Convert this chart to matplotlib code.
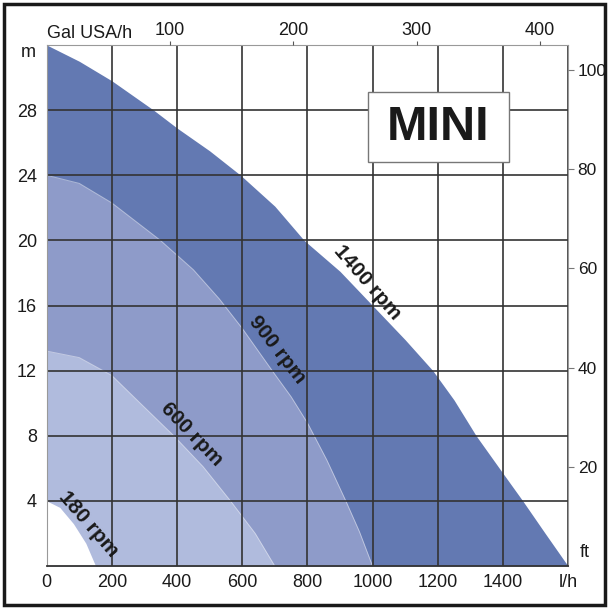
import matplotlib
matplotlib.use('Agg')
import matplotlib.pyplot as plt
from matplotlib.patches import Rectangle

# pump curves: flow in l/h, head in m
flow_1400 = [0, 100, 200, 328, 400, 500, 595, 700, 790, 900, 1000, 1100, 1185,
             1250, 1318, 1400, 1461, 1530, 1600]
head_1400 = [32, 31.0, 29.8, 28, 26.9, 25.5, 24, 22.1, 20, 18.1, 16.0, 13.9, 12,
             10.2, 8, 5.7, 4, 2.0, 0]
flow_900 = [0, 100, 200, 349, 450, 530, 600, 692, 750, 800, 860, 918, 960, 1000]
head_900 = [24, 23.5, 22.3, 20, 18.2, 16.4, 14.6, 12, 10.4, 8.8, 6.5, 4, 2.1, 0]
flow_600 = [0, 100, 200, 287, 390, 480, 564, 640, 700]
head_600 = [13.2, 12.8, 11.7, 10.0, 8, 6.1, 4, 2.0, 0]
flow_180 = [0, 40, 82, 120, 150]
head_180 = [4, 3.6, 2.6, 1.4, 0]

speeds = ['1400 rpm', '900 rpm', '600 rpm', '180 rpm']
label_pos = [(985, 17.4), (708, 13.3), (446, 8.1), (128, 2.6)]
label_rot = [-49, -52, -46, -49]

x_ticks = [0, 200, 400, 600, 800, 1000, 1200, 1400, 1600]
x_labels = ['0', '200', '400', '600', '800', '1000', '1200', '1400', 'l/h']
y_ticks = [4, 8, 12, 16, 20, 24, 28]
ft_ticks = [20, 40, 60, 80, 100]
gal_ticks = [100, 200, 300, 400]

c_dark = '#6379b2'
c_mid = '#8e9bc9'
c_light = '#b0bbdd'
grid_c = '#333333'
narrow = ['Liberation Sans Narrow', 'Liberation Sans', 'DejaVu Sans']

fig = plt.figure(figsize=(6.09, 6.09), dpi=100)
ax = fig.add_axes([0.0767, 0.0706, 0.8560, 0.8555])

ax.fill_between(flow_1400, head_1400, color=c_dark, lw=0, zorder=1)
ax.fill_between(flow_900, head_900, color=c_mid, lw=0, zorder=1)
ax.fill_between(flow_600, head_600, color=c_light, lw=0, zorder=1)
ax.fill_between(flow_180, head_180, color='white', lw=0, zorder=1)
for fx, hy in [(flow_900, head_900), (flow_600, head_600)]:
    ax.plot(fx, hy, color='white', lw=0.7, alpha=0.45, zorder=1.2)

ax.set_xlim(0, 1600)
ax.set_ylim(0, 32)
ax.set_xticks(x_ticks)
ax.set_xticklabels(x_labels, fontfamily=narrow, fontsize=13)
ax.set_yticks(y_ticks)
ax.set_yticklabels([str(v) for v in y_ticks], fontfamily=narrow, fontsize=13)
ax.tick_params(axis='both', length=0, colors='#1a1a1a')
ax.tick_params(axis='x', pad=6)
ax.tick_params(axis='y', pad=7)
ax.grid(True, color=grid_c, lw=1.2)
for s in ['top', 'right', 'left']:
    ax.spines[s].set_color('#999999')
ax.spines['bottom'].set_color('#333333')
ax.spines['bottom'].set_linewidth(1.3)

ax.text(-0.02, 0.985, 'm', transform=ax.transAxes, ha='right', va='center',
        fontfamily=narrow, fontsize=13, color='#1a1a1a')

# feet on the right
axr = ax.twinx()
axr.set_ylim(0, 32 / 0.3048)
axr.set_yticks(ft_ticks)
axr.set_yticklabels([str(v) for v in ft_ticks], fontfamily=narrow, fontsize=12.5)
axr.tick_params(axis='y', length=4, color='#777777', pad=3, labelcolor='#1a1a1a')
for s in axr.spines.values():
    s.set_visible(False)
axr.text(1.022, 0.025, 'ft', transform=ax.transAxes, ha='left', va='center',
         fontfamily=narrow, fontsize=13, color='#1a1a1a')

# US gallons on top
axt = ax.twiny()
axt.set_xlim(0, 1600 / 3.785411784)
axt.set_xticks(gal_ticks)
axt.set_xticklabels([str(v) for v in gal_ticks], fontfamily=narrow, fontsize=13)
axt.tick_params(axis='x', length=3, color='#555555', pad=1, labelcolor='#1a1a1a')
for s in axt.spines.values():
    s.set_visible(False)
axt.text(0.0, 1.022, 'Gal USA/h', transform=ax.transAxes, ha='left', va='center',
         fontfamily=narrow, fontsize=13, color='#1a1a1a')

for name, (px, py), rot in zip(speeds, label_pos, label_rot):
    ax.text(px, py, name, rotation=rot, rotation_mode='anchor', ha='center',
            va='center', fontfamily=['Liberation Sans', 'DejaVu Sans'],
            fontsize=15, fontweight='bold', color='#1a1a1a', zorder=5)

ax.add_patch(Rectangle((985, 24.8), 435, 4.3, fc='white', ec='#777777',
                       lw=1, zorder=3))
ax.text(1202, 26.95, 'MINI', ha='center', va='center', fontsize=35,
        fontweight='bold', fontfamily=['Liberation Sans', 'DejaVu Sans'],
        color='#1a1a1a', zorder=4)

fig.patches.append(Rectangle((0.006, 0.006), 0.988, 0.988, transform=fig.transFigure,
                             fill=False, ec='#1a1a1a', lw=2.5))

fig.savefig('out.png', dpi=100)
